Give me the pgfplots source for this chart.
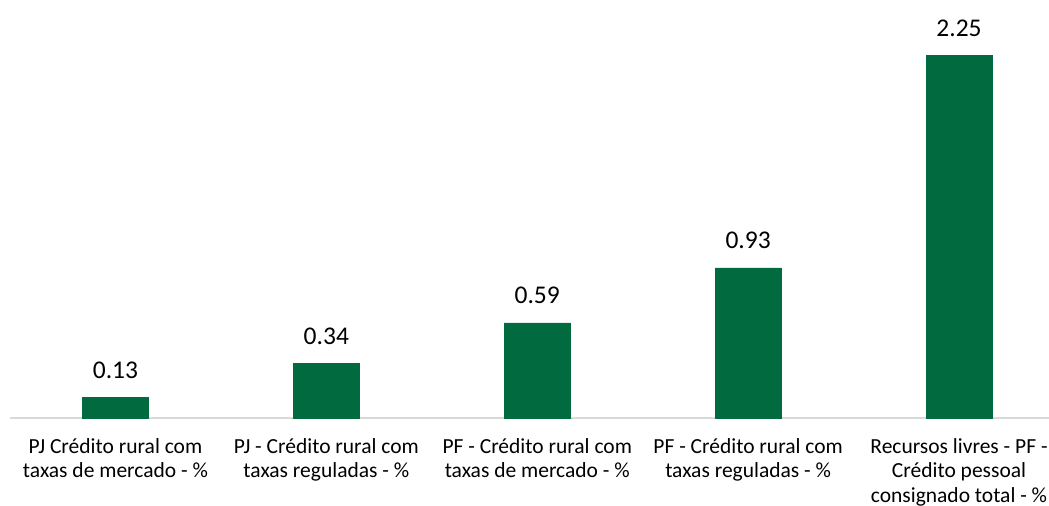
\documentclass[border=0pt]{standalone}
\usepackage{pgfplots}
\pgfplotsset{compat=1.18}
\usepackage{fontspec}
\setmainfont{Carlito}
\definecolor{bargreen}{HTML}{026A3F}
\definecolor{axgray}{HTML}{D9D9D9}
\begin{document}
\begin{tikzpicture}[x=1bp,y=1bp]
\useasboundingbox (-10bp,-88bp) rectangle (1039bp,418bp);
\begin{axis}[
  at={(0,0)}, anchor=south west,
  scale only axis,
  width=1039bp, height=418bp,
  xmin=-0.5, xmax=4.4265,
  ymin=0, ymax=2.591,
  axis x line=bottom,
  axis y line=none,
  x axis line style={draw=axgray, line width=1.5bp, -},
  xtick=data,
  major tick length=0pt,
  xticklabels={{PJ Crédito rural com\\taxas de mercado - \%},
               {PJ - Crédito rural com\\taxas reguladas - \%},
               {PF - Crédito rural com\\taxas de mercado - \%},
               {PF - Crédito rural com\\taxas reguladas - \%},
               {Recursos livres - PF -\\Crédito pessoal\\consignado total - \%}},
  xticklabel style={align=center, anchor=north, inner sep=0pt, yshift=-20bp,
     font=\fontsize{21.5bp}{24.8bp}\selectfont, text=black},
  ybar, bar width=66bp,
  clip=false,
  nodes near coords={\pgfmathprintnumber[fixed,fixed zerofill,precision=2,assume math mode=true]{\pgfplotspointmeta}},
  every node near coord/.style={anchor=base, yshift=19bp, inner sep=0pt,
     font=\fontsize{25.5bp}{30bp}\selectfont, text=black},
]
\addplot[fill=bargreen, draw=bargreen] coordinates {(0,0.13) (1,0.34) (2,0.59) (3,0.93) (4,2.25)};
\end{axis}
\end{tikzpicture}
\end{document}
